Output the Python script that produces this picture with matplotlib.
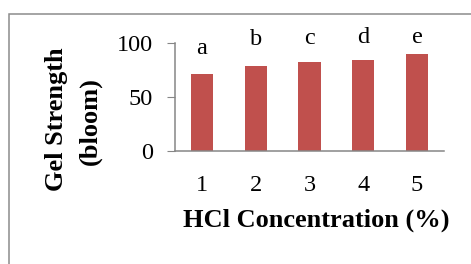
import matplotlib
matplotlib.use("Agg")
import matplotlib.pyplot as plt
from matplotlib.patches import Rectangle

concentrations = ["1", "2", "3", "4", "5"]
gel_strength = [71.3, 78.7, 82.4, 84.3, 89.8]
letters = ["a", "b", "c", "d", "e"]
letter_heights = [95, 103, 104, 105, 105]

plt.rcParams['font.family'] = ['Liberation Serif', 'DejaVu Serif']

fig = plt.figure(figsize=(4.71, 2.64), dpi=100)

# frame around the figure (runs off the right and bottom)
frame = Rectangle((9 / 471, -0.1), 1.2, 1 - 14 / 264 + 0.1, transform=fig.transFigure,
                  fill=False, edgecolor='#8c8c8c', linewidth=1.1, zorder=1)
fig.patches.append(frame)

ax = fig.add_axes([175 / 471, 1 - 151 / 264, 269 / 471, 108 / 264])
ax.patch.set_alpha(0)

x = range(len(concentrations))
ax.bar(x, gel_strength, width=0.41, color='#c0504d', zorder=2)

for xi, lab, h in zip(x, letters, letter_heights):
    ax.text(xi, h, lab, ha='center', va='center', fontsize=17.5, clip_on=False)

ax.set_xlim(-0.5, 4.5)
ax.set_ylim(0, 100)
ax.set_yticks([0, 50, 100])
ax.set_xticks(list(x))
ax.set_xticklabels(concentrations)

for s in ['top', 'right']:
    ax.spines[s].set_visible(False)
for s in ['left', 'bottom']:
    ax.spines[s].set_color('#868686')
    ax.spines[s].set_linewidth(1.1)

ax.tick_params(axis='y', direction='out', length=6, color='#868686', labelsize=17.5, pad=10)
ax.tick_params(axis='x', length=0, labelsize=17.5, pad=17)

fig.text(316 / 471, 1 - 220 / 264, "HCl Concentration (%)", ha='center', va='center',
         fontsize=19, fontweight='bold')
fig.text(57 / 471, 1 - 119 / 264, "Gel Strength", rotation=90, ha='center', va='center',
         fontsize=19, fontweight='bold')
fig.text(90 / 471, 1 - 121 / 264, "(bloom)", rotation=90, ha='center', va='center',
         fontsize=19, fontweight='bold')

fig.savefig("out.png", dpi=100)
